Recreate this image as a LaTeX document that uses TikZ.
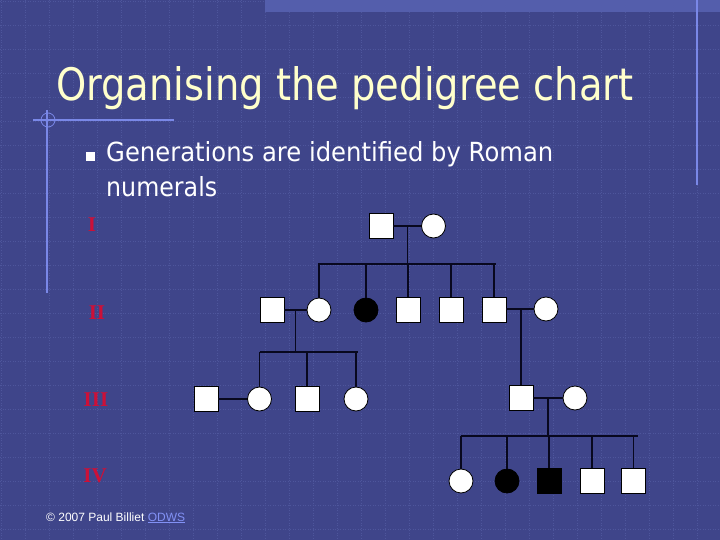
\documentclass[tikz,border=0pt]{standalone}
\usepackage{fontspec}
\usepackage{graphicx}
\usetikzlibrary{calc}
\setmainfont{DejaVu Sans}
\newfontfamily\romfont{Liberation Serif Bold}
\newfontfamily\smallfont{Liberation Sans}
\definecolor{bg}{RGB}{63,69,138}
\definecolor{gridc}{RGB}{78,86,156}
\definecolor{band}{RGB}{84,94,172}
\definecolor{deco}{RGB}{122,136,232}
\definecolor{titlec}{RGB}{255,255,204}
\definecolor{romc}{RGB}{204,16,56}
\definecolor{linkc}{RGB}{130,145,245}
\definecolor{pedline}{RGB}{8,8,30}
\tikzset{
  male/.style={rectangle, draw=black, line width=0.8pt, fill=white, minimum width=24pt, minimum height=25pt, inner sep=0pt},
  female/.style={circle, draw=black, line width=0.8pt, fill=white, minimum size=24pt, inner sep=0pt},
  affected/.style={fill=black},
  ped/.style={draw=pedline, line width=1.3pt},
  decoline/.style={draw=deco, line width=1.2pt},
  roman/.style={text=romc, font=\romfont\fontsize{21}{24}\selectfont, inner sep=0pt}
}
\begin{document}
\begin{tikzpicture}[x=1pt,y=-1pt]
\useasboundingbox (0,0) rectangle (720,540);
\fill[bg] (0,0) rectangle (720,540);
% grid
\foreach \i in {1,25,...,720} \draw[gridc, line width=0.5pt, dotted] (\i,0) -- (\i,540);
\foreach \j in {1,25,...,540} \draw[gridc, line width=0.5pt, dotted] (0,\j) -- (720,\j);
% top band
\fill[band] (265,0) rectangle (720,12);
% decorations
\draw[decoline] (697,0) -- (697,185);
\draw[decoline] (33,120) -- (174,120);
\draw[decoline] (47,110) -- (47,293);
\draw[decoline, line width=0.8pt] (48,120) circle (7);
% title
\node[anchor=base west, inner sep=0pt, text=titlec] (title) at (56,101) {\resizebox{577pt}{34pt}{Organising the pedigree chart}};
% bullet text
\node[fill=white, minimum size=9pt, inner sep=0pt] (bullet) at (90,157) {};
\node[anchor=base west, inner sep=0pt, text=white] (line1) at (106,162) {\resizebox{447pt}{20pt}{Generations are identified by Roman}};
\node[anchor=base west, inner sep=0pt, text=white] (line2) at (106,197) {\resizebox{111pt}{20pt}{numerals}};
% roman numerals
\node[roman] (rI) at (92,225) {I};
\node[roman] (rII) at (97,313) {II};
\node[roman] (rIII) at (96,400) {III};
\node[roman] (rIV) at (95,476) {IV};
% copyright
\node[anchor=base west, inner sep=0pt, text=white, font=\smallfont\fontsize{12}{14}\selectfont] (copy) at (46,521) {\textcopyright{} 2007 Paul Billiet \textcolor{linkc}{\underline{ODWS}}};
% generation I
\node[male] (m1) at (381,226) {};
\node[female] (f1) at (433.5,226) {};
% generation II
\node[male] (s1) at (272,310) {};
\node[female] (c1) at (319,310) {};
\node[female, affected] (c2) at (366,310) {};
\node[male] (s2) at (408,310) {};
\node[male] (s3) at (451,310) {};
\node[male] (s4) at (494,310) {};
\node[female] (c3) at (546,309) {};
% generation III
\node[male] (s5) at (206,399) {};
\node[female] (c4) at (259.5,399) {};
\node[male] (s6) at (307,399) {};
\node[female] (c5) at (356,399) {};
\node[male] (s7) at (521,397.5) {};
\node[female] (c6) at (575,398) {};
% generation IV
\node[female] (c7) at (461,481) {};
\node[female, affected] (c8) at (507,481) {};
\node[male, affected] (s8) at (549,481) {};
\node[male] (s9) at (592,481) {};
\node[male] (s10) at (633.5,481) {};
% sibship coordinates
\coordinate (sibII) at (0,264);
\coordinate (sibIII) at (0,352);
\coordinate (sibIV) at (0,436);
% gen I marriage and descent
\draw[ped] (m1.east) -- (f1.west |- m1.east);
\coordinate (mI) at ($(m1.east)!0.5!(f1.west)$);
\draw[ped] (mI) -- (mI |- sibII);
\draw[ped] ([xshift=-1pt]c1.north |- sibII) -- ([xshift=2pt]s4.north |- sibII);
\foreach \n in {c1,c2,s2,s3,s4} \draw[ped] (\n.north |- sibII) -- (\n.north);
% gen II left marriage
\draw[ped] (s1.east) -- (c1.west);
\coordinate (mIIa) at ($(s1.east)!0.5!(c1.west)$);
\draw[ped] (mIIa) -- (mIIa |- sibIII);
\draw[ped] (c4.north |- sibIII) -- ([xshift=2pt]c5.north |- sibIII);
\foreach \n in {c4,s6,c5} \draw[ped] (\n.north |- sibIII) -- (\n.north);
% gen II right marriage
\draw[ped] (s4.east |- c3.west) -- (c3.west);
\draw[ped] (s7.north |- c3.west) -- (s7.north);
% gen III marriages
\draw[ped] (s5.east |- c4.west) -- (c4.west);
\draw[ped] (s7.east |- c6.west) -- (c6.west);
\coordinate (mIIIb) at ($(s7.east |- c6.west)!0.5!(c6.west)$);
\draw[ped] (mIIIb) -- (mIIIb |- sibIV);
\draw[ped] (c7.north |- sibIV) -- ([xshift=4pt]s10.north |- sibIV);
\foreach \n in {c7,c8,s8,s9,s10} \draw[ped] (\n.north |- sibIV) -- (\n.north);
\end{tikzpicture}
\end{document}
